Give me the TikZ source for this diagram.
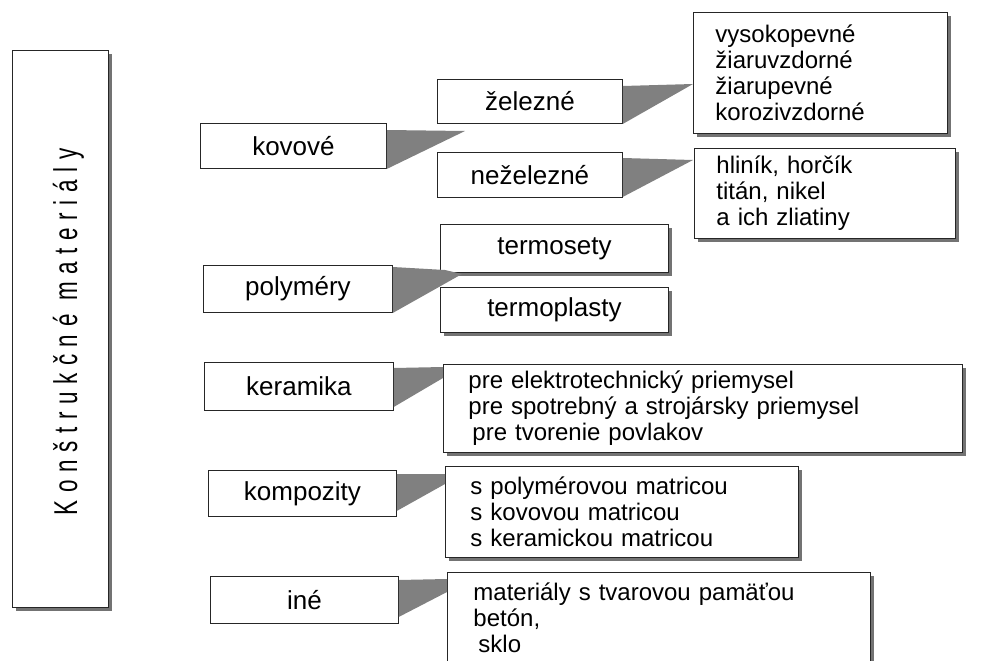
\documentclass[tikz,border=0pt]{standalone}
\usepackage{fontspec}
\setmainfont{Liberation Sans}
\newfontfamily\spacedfont[LetterSpace=34]{Liberation Sans}
\usetikzlibrary{shadows,calc}
\begin{document}
\begin{tikzpicture}[x=1pt,y=-1pt,
  box/.style={draw=black!85, line width=0.9pt, fill=white, inner sep=0pt, anchor=north west},
  lbl/.style={box, font=\fontsize{26}{28}\selectfont},
  list/.style={box, font=\fontsize{24}{26}\selectfont, align=left},
  shad/.style={drop shadow={shadow xshift=4pt, shadow yshift=-4pt, fill=black!55, opacity=1}},
  wedge/.style={fill=black!50, draw=none}]
\clip (0,0) rectangle (1002,661);
\fill[white] (0,0) rectangle (1002,661);

% main vertical box
\node[box, shad, minimum width=96pt, minimum height=557pt] (main) at (12,50) {};
\node[rotate=90, font=\spacedfont\fontsize{33}{33}\selectfont] (title) at ($(main.center)+(8,3)$) {\scalebox{0.68}[1]{Konštrukčné materiály}};

% free ends of the connectors
\coordinate (a0) at (465,131);
\coordinate (a1) at (693,84);
\coordinate (a2) at (693,160);
\coordinate (b3) at (445,270);
\coordinate (a3) at (462,274);

% boxes
\node[lbl, minimum width=186pt, minimum height=45pt] (kov) at (200,123) {kovové};
\node[lbl, minimum width=185pt, minimum height=44pt] (zel) at (437,79) {železné};
\node[lbl, minimum width=185pt, minimum height=45pt] (nez) at (437,152) {neželezné};
\node[list, shad, text width=226pt, inner xsep=14pt, minimum height=121pt] (vys) at (693,12) {\hspace*{8pt}vysokopevné\\\hspace*{8pt}žiaruvzdorné\\\hspace*{8pt}žiarupevné\\\hspace*{8pt}korozivzdorné};
\node[list, shad, text width=233pt, inner xsep=14pt, minimum height=90pt] (hli) at (694,148) {\hspace*{8pt}hliník, horčík\\\hspace*{8pt}titán, nikel\\\hspace*{8pt}a ich zliatiny};
\node[lbl, shad, minimum width=228pt, minimum height=48pt] (ters) at (440,224) {termosety};
\node[lbl, shad, minimum width=228pt, minimum height=45pt] (terp) at (440,287) {termoplasty};
\node[lbl, minimum width=189pt, minimum height=47pt] (pol) at (203,265) {polyméry};
\node[lbl, minimum width=189pt, minimum height=48pt] (ker) at (204,362) {keramika};
\node[list, shad, text width=469pt, inner xsep=25pt, minimum height=88pt] (kerb) at (443,364) {pre elektrotechnický priemysel\\pre spotrebný a strojársky priemysel\\\hspace*{4pt}pre tvorenie povlakov};
\node[lbl, minimum width=188pt, minimum height=46pt] (kom) at (208,470) {kompozity};
\node[list, shad, text width=303pt, inner xsep=25pt, minimum height=91pt] (komb) at (445,466) {s polymérovou matricou\\s kovovou matricou\\s keramickou matricou};
\node[lbl, minimum width=188pt, minimum height=47pt] (ine) at (210,576) {iné};
\node[list, shad, text width=371pt, inner xsep=26pt, inner ysep=10pt] (ineb) at (447,572) {materiály s tvarovou pamäťou\\betón,\\\hspace*{5pt}sklo\\[10pt]\mbox{}};

% connectors
\fill[wedge] ($(kov.north east)+(0,7)$) -- (a0) -- (kov.south east) -- cycle;
\fill[wedge] ($(zel.north east)+(0,7)$) -- (a1) -- (zel.south east) -- cycle;
\fill[wedge] ($(nez.north east)+(0,6)$) -- (a2) -- ($(nez.south east)+(0,-1)$) -- cycle;
\fill[wedge] ($(pol.north east)+(0,2)$) -- (b3) -- (a3) -- (pol.south east) -- cycle;
\fill[wedge] ($(ker.north east)+(0,6)$) -- ($(kerb.north west)+(0,3)$) -- ($(kerb.north west)+(0,14)$) -- ($(ker.south east)+(0,-4)$) -- cycle;
\fill[wedge] ($(kom.north east)+(0,4)$) -- ($(komb.north west)+(0,8)$) -- ($(komb.north west)+(0,18)$) -- ($(kom.south east)+(0,-6)$) -- cycle;
\fill[wedge] ($(ine.north east)+(0,4)$) -- ($(ineb.north west)+(0,7)$) -- ($(ineb.north west)+(0,20)$) -- ($(ine.south east)+(0,-7)$) -- cycle;
\end{tikzpicture}
\end{document}
